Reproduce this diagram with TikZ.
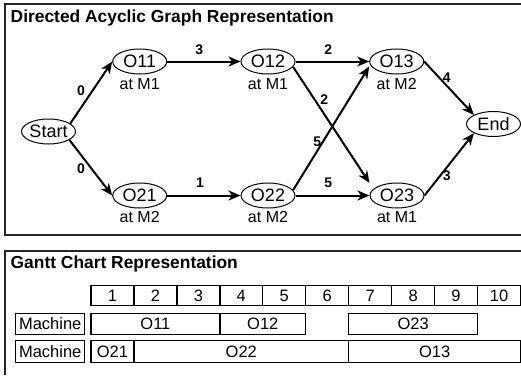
\documentclass[tikz,border=0pt]{standalone}
\usepackage{fontspec}
\setmainfont{Liberation Sans}
\usetikzlibrary{shapes.geometric,arrows.meta,calc}
\begin{document}
\begin{tikzpicture}[x=1pt,y=-1pt,
  op/.style={draw, ellipse, line width=1pt, minimum width=54pt, minimum height=25pt, inner sep=0pt, font=\fontsize{18}{18}\selectfont},
  sub/.style={inner sep=0pt, font=\fontsize{16}{16}\selectfont},
  wt/.style={inner sep=0pt, font=\bfseries\fontsize{14}{14}\selectfont},
  edge/.style={line width=2pt, -{Stealth[length=12pt,width=10pt,inset=3.5pt]}},
  frame/.style={line width=1.8pt, draw=black!85},
  ttl/.style={inner sep=0pt, anchor=base west, font=\bfseries\fontsize{17.4}{17.4}\selectfont},
  gcell/.style={draw, line width=1.3pt, inner sep=0pt, minimum height=21pt, font=\fontsize{16.5}{16.5}\selectfont},
  hcell/.style={gcell, minimum width=42.95pt, minimum height=20pt}
]
\useasboundingbox (0,0) rectangle (521,375);
\fill[white] (0,0) rectangle (521,375);
% frames
\draw[frame] (521,4) -- (5,4) -- (5,235.3) -- (521,235.3);
\draw[frame] (521,250.7) -- (5,250.7) -- (5,375);
\node[ttl] (t1) at (10.5,22) {Directed Acyclic Graph Representation};
\node[ttl] (t2) at (10.5,268) {Gantt Chart Representation};
% graph nodes
\node[op] (s)   at (48.5,131.5) {Start};
\node[op] (o11) at (139.7,61.5) {O11};
\node[op] (o12) at (268,61.5)   {O12};
\node[op] (o13) at (396.7,61.5) {O13};
\node[op] (e)   at (493.5,124)  {End};
\node[op] (o21) at (139.7,195.5) {O21};
\node[op] (o22) at (268,195.5)   {O22};
\node[op] (o23) at (397,195.5)   {O23};
% machine labels
\node[sub] (l11) at (139.7,84) {at M1};
\node[sub] (l12) at (268,84)   {at M1};
\node[sub] (l13) at (396.7,84) {at M2};
\node[sub] (l21) at (139.7,217) {at M2};
\node[sub] (l22) at (268,217)   {at M2};
\node[sub] (l23) at (397,217)   {at M1};
% edges
\draw[edge] (s.20) -- (o11.west);
\draw[edge] (s.-22) -- (o21.west);
\draw[edge] (o11.east) -- (o12.west);
\draw[edge] (o21.east) -- (o22.west);
\draw[edge] (o12.east) -- (o13.west);
\draw[edge] (o22.east) -- (o23.west);
\draw[edge] (o12.-12) -- ($(o23.west)+(0,-12.5)$);
\draw[edge] (o22.12) -- ($(o13.west)+(0,5)$);
\draw[edge] (o13.east) -- (e.155);
\draw[edge] (o23.east) -- (e.-155);
% weights
\node[wt] (w1) at (81,90.7) {0};
\node[wt] (w2) at (81,168.3) {0};
\node[wt] (w3) at (199.3,50) {3};
\node[wt] (w4) at (200,182.7) {1};
\node[wt] (w5) at (328.3,49.3) {2};
\node[wt] (w6) at (324.3,99.3) {2};
\node[wt] (w7) at (317.3,141.7) {5};
\node[wt] (w8) at (328.3,182.3) {5};
\node[wt] (w9) at (446.7,77.3) {4};
\node[wt] (w10) at (446.7,176) {3};
% Gantt header
\foreach \i in {1,...,10}
  \node[hcell] (h\i) at ({91+42.95*(\i-0.5)},295.7) {\i};
% row 1
\node[gcell, minimum width=69pt] (m1) at (50.2,323.8) {Machine};
\node[gcell, minimum width=128.85pt] (g11) at (155.4,323.8) {O11};
\node[gcell, minimum width=85.9pt] (g12) at (262.8,323.8) {O12};
\node[gcell, minimum width=128.85pt] (g23) at (413.2,323.8) {O23};
% row 2
\node[gcell, minimum width=69pt, minimum height=21.6pt] (m2) at (50.2,351.5) {Machine};
\node[gcell, minimum width=42.95pt, minimum height=21.6pt] (g21) at (112.5,351.5) {O21};
\node[gcell, minimum width=214.75pt, minimum height=21.6pt] (g22) at (241.3,351.5) {O22};
\node[gcell, minimum width=171.8pt, minimum height=21.6pt] (g13) at (434.6,351.5) {O13};
\end{tikzpicture}
\end{document}
